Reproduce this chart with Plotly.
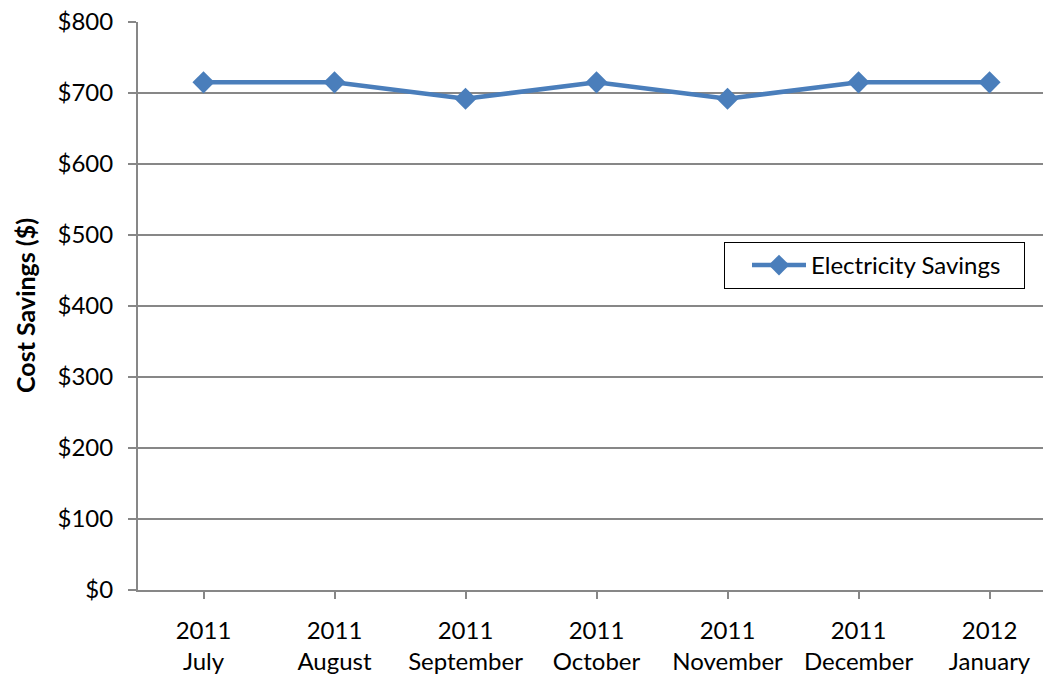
import plotly.graph_objects as go

years = ["2011", "2011", "2011", "2011", "2011", "2011", "2012"]
months = ["July", "August", "September", "October", "November", "December", "January"]
savings = [715, 715, 692, 715, 692, 715, 715]
y_ticks = [0, 100, 200, 300, 400, 500, 600, 700, 800]
y_tick_text = ["$" + str(v) for v in y_ticks]
y_title = "Cost Savings ($)"
series_name = "Electricity Savings"

cats = [f"{y}<br>{m}" for y, m in zip(years, months)]
xs = list(range(len(cats)))

font_fam = "Lato, 'Open Sans', sans-serif"
grid_col = "#878787"

L, R, T, B = 138, 0, 22, 87
W, H = 1043, 677
plot_w = W - L - R
plot_h = H - T - B

fig = go.Figure()
fig.add_trace(go.Scatter(
    x=xs, y=savings, mode="lines+markers", name=series_name + "&nbsp;&nbsp;&nbsp;",
    line=dict(color="#4A7EBB", width=4.5),
    marker=dict(symbol="diamond", size=17, color="#4A7EBB"),
))

fig.add_annotation(
    text="<b>" + y_title + "</b>", textangle=-90,
    xref="paper", yref="paper", x=(25 - L) / plot_w, y=0.5,
    xanchor="center", yanchor="middle", showarrow=False,
    font=dict(size=25, family=font_fam, color="black"),
)

fig.update_layout(
    width=W, height=H,
    margin=dict(l=L, r=R, t=T, b=B, pad=0),
    paper_bgcolor="white", plot_bgcolor="white",
    font=dict(family=font_fam, size=24, color="black"),
    showlegend=True,
    legend=dict(
        x=(724 - L) / plot_w, y=(590 - 242) / plot_h, xanchor="left", yanchor="top",
        bordercolor="black", borderwidth=1, bgcolor="white",
        font=dict(size=24, family=font_fam),
        itemwidth=54, indentation=22,
    ),
    xaxis=dict(
        range=[-0.5, 6.408],
        tickmode="array", tickvals=xs, ticktext=cats,
        showgrid=False, zeroline=False,
        showline=True, linecolor=grid_col, linewidth=2,
        ticks="outside", ticklen=7, tickcolor=grid_col, tickwidth=2,
        tickson="boundaries", ticklabelstandoff=11,
        tickfont=dict(size=24),
    ),
    yaxis=dict(
        range=[0, 800],
        tickmode="array", tickvals=y_ticks, ticktext=y_tick_text,
        showgrid=True, gridcolor=grid_col, gridwidth=2,
        zeroline=False,
        showline=True, linecolor=grid_col, linewidth=2,
        ticks="outside", ticklen=8, tickcolor=grid_col, tickwidth=2,
        ticklabelstandoff=10,
        tickfont=dict(size=24),
    ),
)

fig.write_html(
    "out.html",
    config={"displayModeBar": False},
    post_script="document.body.style.margin='0';document.body.style.overflow='hidden';",
)
